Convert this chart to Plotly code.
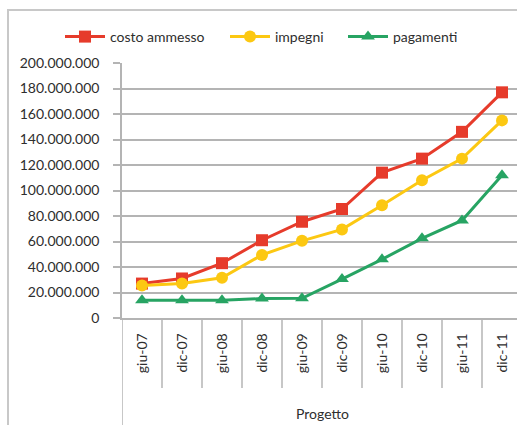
import plotly.graph_objects as go

# Survey dates (semesters)
periods = ["giu-07", "dic-07", "giu-08", "dic-08", "giu-09",
           "dic-09", "giu-10", "dic-10", "giu-11", "dic-11"]

# Amounts in euro
costo_ammesso = [27e6, 31e6, 43e6, 61e6, 75.5e6, 85.5e6, 114e6, 125e6, 146e6, 177e6]
impegni = [25.5e6, 27e6, 31.5e6, 49.5e6, 60.5e6, 69.5e6, 88.5e6, 108e6, 125e6, 155e6]
pagamenti = [14e6, 14e6, 14e6, 15.2e6, 15.4e6, 30.5e6, 46e6, 62.5e6, 76.5e6, 112e6]

y_ticks = list(range(0, 200_000_001, 20_000_000))

W, H = 517, 425
L, R, T, B = 122, 0, 63, 107
plot_w = W - L - R
plot_h = H - T - B
cat_px = 40  # width of one category slot

FONT = "Lato"
TXT = "#2e2e2e"
GRID = "#b4b4b4"

# name, values, colour, marker, marker size, legend id, legend left (px)
series = [
    ("costo ammesso", costo_ammesso, "#e63b2b", "square", 12, "legend", 60),
    ("impegni", impegni, "#fcc812", "circle", 12, "legend2", 225),
    ("pagamenti", pagamenti, "#27a463", "triangle-up", 12, "legend3", 343),
]

fig = go.Figure()
for name, vals, col, sym, sz, leg, _ in series:
    fig.add_trace(go.Scatter(
        x=periods, y=vals, name=name, mode="lines+markers",
        line=dict(color=col, width=3),
        marker=dict(symbol=sym, size=sz, color=col),
        legend=leg,
    ))

def py(p):
    """pixel row -> paper y"""
    return (H - B - p) / plot_h

def px(p):
    """pixel column -> paper x"""
    return (p - L) / plot_w

shapes = []
# outer chart frame
shapes.append(dict(type="rect", xref="paper", yref="paper",
                   x0=px(8), x1=px(W + 40), y0=py(H + 40), y1=py(10),
                   line=dict(color="#c8c8c8", width=2), layer="below"))
# category separators under the axis
for k in range(len(periods) - 1):
    shapes.append(dict(type="line", xref="x", yref="paper",
                       x0=k + 0.5, x1=k + 0.5, y0=0, y1=py(388),
                       line=dict(color=GRID, width=1.5)))
# outer-level separator at the start of the axis
shapes.append(dict(type="line", xref="x", yref="paper",
                   x0=-0.5, x1=-0.5, y0=0, y1=py(H + 5),
                   line=dict(color=GRID, width=1.5)))

legend_style = dict(orientation="h", xref="container", yref="container",
                    y=1 - 37 / H, xanchor="left", yanchor="middle",
                    font=dict(family=FONT, size=14, color=TXT),
                    bgcolor="rgba(0,0,0,0)", itemwidth=40)

fig.update_layout(
    width=W, height=H,
    margin=dict(l=L, r=R, t=T, b=B),
    paper_bgcolor="white", plot_bgcolor="white",
    separators=",.",
    font=dict(family=FONT, size=14, color=TXT),
    showlegend=True,
    legend=dict(x=series[0][6] / W, **legend_style),
    legend2=dict(x=series[1][6] / W, **legend_style),
    legend3=dict(x=series[2][6] / W, **legend_style),
    xaxis=dict(
        type="category", range=[-0.5, -0.5 + plot_w / cat_px],
        showgrid=False, showline=True, linecolor=GRID, linewidth=1.5,
        ticks="", tickangle=-90, ticklabelstandoff=8,
        tickfont=dict(family=FONT, size=14, color=TXT),
        fixedrange=True,
    ),
    yaxis=dict(
        range=[0, 200_000_000], tickvals=y_ticks, tickformat=",d",
        showgrid=True, gridcolor=GRID, gridwidth=1.5,
        showline=True, linecolor=GRID, linewidth=1.5,
        ticks="outside", ticklen=7, tickcolor=GRID, tickwidth=1.5,
        ticklabelstandoff=11,
        zeroline=False, tickfont=dict(family=FONT, size=14, color=TXT),
        fixedrange=True,
    ),
    shapes=shapes,
    annotations=[dict(text="Progetto", xref="paper", yref="paper",
                      x=px(322), y=py(413), xanchor="center", yanchor="middle",
                      showarrow=False, font=dict(family=FONT, size=14, color=TXT))],
)

fig.write_html("out.html")
